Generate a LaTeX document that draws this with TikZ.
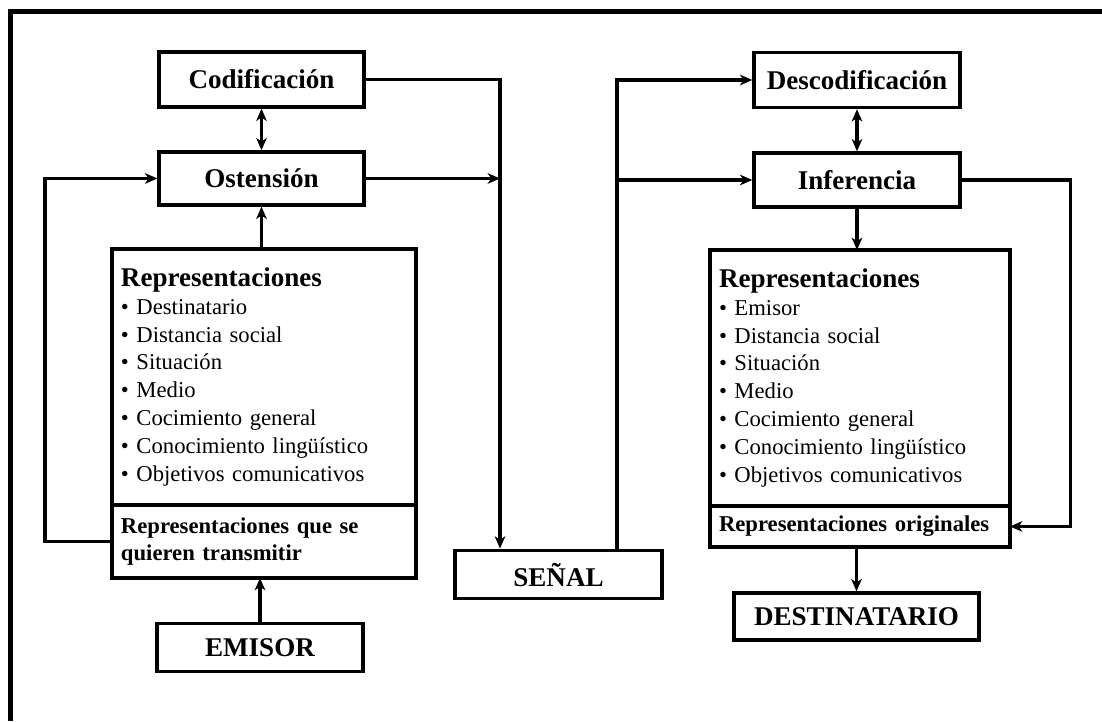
\documentclass[tikz,border=0pt]{standalone}
\usepackage{fontspec}
\setmainfont{Liberation Serif}
\usepackage{tikz}
\usetikzlibrary{arrows.meta,positioning}

\tikzset{
  box/.style={draw, line width=1.9pt, inner sep=0pt, minimum width=4.12cm,
    minimum height=1.1cm, font=\fontsize{15.4}{18}\selectfont\bfseries},
  small box/.style={box, minimum height=0.97cm},
  replist/.style={draw, line width=1.9pt, anchor=north west, align=left,
    inner xsep=0.18cm, inner ysep=0pt, outer sep=0pt, minimum height=5.12cm,
    font=\fontsize{12.9}{15.9}\selectfont},
  repsub/.style={replist, minimum height=1.46cm,
    font=\fontsize{12.9}{15.1}\selectfont\bfseries}
}

\begin{document}
\begin{tikzpicture}[%
>={Stealth[length=7pt,width=6pt,inset=2pt]},
x=0.02cm, y=-0.02cm,
node distance=2cm,
on grid,
line width=1.8pt
]
\useasboundingbox (0,0) rectangle (1102,721);
% frame
\draw[line width=2.8pt] (10.5,721) -- (10.5,11.5) -- (1102,11.5);

% emisor side
\node[box, minimum width=4.1cm] (cod) at (261.5,79.5) {Codificación};
\node[box, minimum width=4.1cm, minimum height=1.06cm] (ost) [below=1.98cm of cod] {Ostensión};
\node[replist, text width=5.72cm] (repL) at (112,249) {%
  {\fontsize{15.4}{18}\selectfont\bfseries Representaciones}\\
  • Destinatario\\
  • Distancia social\\
  • Situación\\
  • Medio\\
  • Cocimiento general\\
  • Conocimiento lingüístico\\
  • Objetivos comunicativos};
\node[repsub, text width=5.72cm] (wantL) at (repL.south west) {Representaciones que se\\quieren transmitir};
\node[small box] (emisor) at (260,647.5) {EMISOR};

% signal
\node[small box, minimum width=4.14cm] (senal) at (558.5,574.5) {SEÑAL};
\coordinate (sIn) at ([xshift=-1.17cm] senal.north);
\coordinate (sOut) at ([xshift=1.17cm] senal.north);

% destinatario side
\node[box] (desc) at (857,80) {Descodificación};
\node[box, minimum height=1.08cm] (inf) [below=2cm of desc] {Inferencia};
\node[replist, text width=5.64cm] (repR) at (710,250) {%
  {\fontsize{15.4}{18}\selectfont\bfseries Representaciones}\\
  • Emisor\\
  • Distancia social\\
  • Situación\\
  • Medio\\
  • Cocimiento general\\
  • Conocimiento lingüístico\\
  • Objetivos comunicativos};
\node[repsub, text width=5.64cm, minimum height=0.82cm] (origR) at (repR.south west) {Representaciones originales};
\node[small box, minimum width=4.9cm, minimum height=0.94cm] (dest) at (856.5,616.5) {DESTINATARIO};

% left column
\draw[<->] (cod) -- (ost);
\draw[->] (repL.north -| ost) -- (ost);
\draw[->] (emisor) -- (wantL.south -| emisor);
\draw[->] (wantL.west) -- ++(-67,0) |- (ost.west);

% into the signal
\draw[->] (cod.east) -| (sIn);
\draw[->] (ost.east) -- (ost.east -| sIn);

% out of the signal
\draw[->] (sOut) |- (desc.west);
\draw[->] (inf.west -| sOut) -- (inf.west);

% right column
\draw[<->] (desc) -- (inf);
\draw[->] (inf) -- (repR.north -| inf);
\draw[->] (inf.east) -- ++(109,0) |- (origR.east);
\draw[->] (origR.south -| dest) -- (dest);

\end{tikzpicture}
\end{document}
